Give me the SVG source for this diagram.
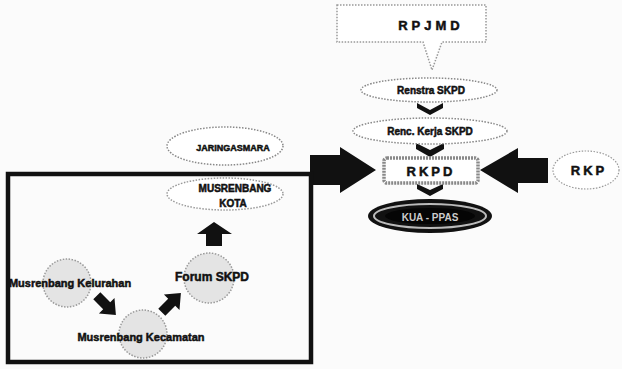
<svg xmlns="http://www.w3.org/2000/svg" width="622" height="369" viewBox="0 0 622 369">
<defs>
<style>
.t{font-family:"Liberation Sans",Arial,sans-serif;font-weight:bold;fill:#111;stroke:#111;stroke-width:0.5;text-anchor:middle;dominant-baseline:central}
.dot{fill:#fff;stroke:#888;stroke-width:1.5;stroke-dasharray:1.5 1.5}
.circ{fill:#e4e4e4;stroke:#999;stroke-width:1.5;stroke-dasharray:1.5 1.5}
.blk{fill:#111}
</style>
<path id="darr" d="M-13,-5 L1,-5 L1,-11 L14,0 L1,11 L1,5 L-13,5 Z"/>
</defs>
<rect width="622" height="369" fill="#fbfbfb"/>

<g id="connectors">
<polygon class="blk" points="417,103 430,110 443,103 443,108 430,115 417,108"/>
<polygon class="blk" points="416,143 430,150 444,143 444,149 430,157 416,149"/>
<polygon class="blk" points="417,184 430,190 443,184 443,189 430,196 417,189"/>
<polygon class="blk" points="310,155 340,155 340,147 376,170 340,193 340,185 310,185"/>
<polygon class="blk" points="480,170 518,148 518,158 548,158 548,183 518,183 518,193"/>
<polygon class="blk" points="214,222 232,234 222,234 222,246 206,246 206,234 197,234"/>
<use href="#darr" class="blk" transform="translate(106,305) rotate(45)"/>
<use href="#darr" class="blk" transform="translate(171,303) rotate(-45)"/>
</g>

<g id="rpjmd">
<path d="M337,5 L486,5 L486,42 L442,42 L432,70 L423,42 L337,42 Z" fill="#fff" stroke="#999" stroke-width="1.5" stroke-dasharray="1.5 1.5"/>
<text class="t" x="431" y="25" font-size="13" letter-spacing="4">RPJMD</text>
</g>

<g id="renstra">
<ellipse class="dot" cx="429" cy="90" rx="68" ry="12"/>
<text class="t" x="431" y="90" font-size="10">Renstra SKPD</text>
</g>

<g id="renja">
<ellipse class="dot" cx="430" cy="131" rx="77" ry="13"/>
<text class="t" x="430" y="131" font-size="10">Renc. Kerja SKPD</text>
</g>

<g id="rkpd">
<rect x="384" y="158" width="94" height="25" rx="3" fill="#fff" stroke="#888" stroke-width="3.5" stroke-dasharray="2 1"/>
<text class="t" x="431" y="171" font-size="13" letter-spacing="3">RKPD</text>
</g>

<g id="rkp">
<ellipse cx="586" cy="170" rx="33" ry="19" fill="#fff" stroke="#999" stroke-width="1.2" stroke-dasharray="1.5 1.5"/>
<text class="t" x="589" y="170" font-size="13" letter-spacing="3">RKP</text>
</g>

<g id="kua">
<ellipse cx="430" cy="216" rx="62" ry="17" fill="#111"/>
<ellipse cx="430" cy="216" rx="56" ry="12" fill="none" stroke="#bbb" stroke-width="2"/>
<ellipse cx="430" cy="216" rx="45" ry="8" fill="#050505"/>
<text class="t" x="430" y="217" font-size="10" style="fill:#ccc;stroke:none">KUA - PPAS</text>
</g>

<g id="jaring">
<ellipse class="dot" cx="225" cy="146" rx="58" ry="19"/>
<text class="t" x="233" y="148" font-size="9">JARINGASMARA</text>
</g>

<g id="frame">
<rect x="8" y="174" width="303" height="188" fill="none" stroke="#111" stroke-width="4.5"/>
</g>

<g id="musrenbang-kota">
<ellipse cx="225" cy="194" rx="58" ry="16" fill="#fff" stroke="#999" stroke-width="1.5" stroke-dasharray="1.5 1.5"/>
<text class="t" x="235" y="188" font-size="10">MUSRENBANG</text>
<text class="t" x="233" y="203" font-size="10">KOTA</text>
</g>

<g id="forum-skpd">
<circle class="circ" cx="209" cy="278" r="25"/>
<text class="t" x="212" y="277" font-size="12">Forum SKPD</text>
</g>

<g id="musrenbang-kelurahan">
<circle class="circ" cx="67" cy="283" r="24"/>
<text class="t" x="70" y="283" font-size="11">Musrenbang Kelurahan</text>
</g>

<g id="musrenbang-kecamatan">
<circle class="circ" cx="143" cy="334" r="24"/>
<text class="t" x="141" y="337" font-size="11">Musrenbang Kecamatan</text>
</g>
</svg>
